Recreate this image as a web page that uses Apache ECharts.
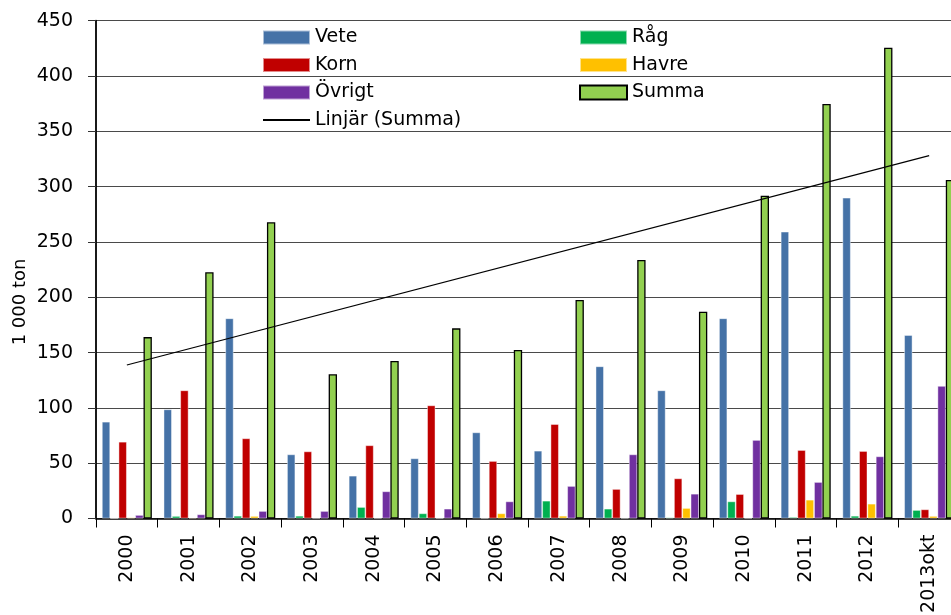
<!DOCTYPE html>
<html>
<head>
    <meta charset="utf-8">
    <title>Spannmål</title>
    <script src="https://cdn.jsdelivr.net/npm/echarts@6/dist/echarts.min.js"></script>
    <style>
        html, body { margin: 0; padding: 0; background: #fff; }
    </style>
</head>
<body>
<div id="main" style="width: 951px;height:615px"></div>
<script type="text/javascript">
    // kategorier och värden (1 000 ton)
    var years = ['2000', '2001', '2002', '2003', '2004', '2005', '2006', '2007', '2008', '2009', '2010', '2011', '2012', '2013okt'];
    var vete = [87.5, 98.7, 181, 58, 38.7, 54.4, 77.9, 61.3, 137.6, 115.9, 181, 259.3, 290, 165.9];
    var rag = [0, 2.3, 2.5, 2.5, 10.4, 4.7, 0.3, 16.1, 8.9, 1, 15.5, 1.4, 2.5, 7.7];
    var korn = [69.4, 115.9, 72.5, 60.7, 66.2, 102.3, 52, 85.4, 26.7, 36.3, 22.1, 61.9, 61, 8.3];
    var havre = [1, 0.8, 2.3, 0.5, 0.5, 0.3, 4.7, 2.5, 0.4, 9.5, 0.5, 17, 13.4, 2.3];
    var ovrigt = [3.2, 3.8, 6.8, 6.8, 24.6, 8.9, 15.5, 29.4, 58, 22.4, 71, 33, 56.2, 119.8];
    var summa = [164, 222.6, 267.8, 130.4, 142.4, 171.9, 152.3, 197.5, 233.7, 187, 291.8, 374.7, 425.6, 306];
    // trendlinjens ändpunkter (första och sista kategorin)
    var trend = [138.8, null, null, null, null, null, null, null, null, null, null, null, null, 328.1];

    var myChart = echarts.init(document.getElementById('main'));

    var font = 'DejaVu Sans';
    var thinEdge = { borderColor: 'rgba(255,255,255,0.55)', borderWidth: 0.8 };

    function bar(name, data, color) {
        return {
            name: name,
            type: 'bar',
            data: data,
            barGap: '0%',
            barCategoryGap: '19%',
            itemStyle: Object.assign({ color: color }, thinEdge),
            emphasis: { disabled: true }
        };
    }

    var legendCommon = {
        orient: 'vertical',
        top: 28,
        itemWidth: 47,
        itemHeight: 14,
        itemGap: 8.5,
        padding: 0,
        selectedMode: false,
        textStyle: { fontFamily: font, fontSize: 19, lineHeight: 19, color: '#000' }
    };

    var option = {
        animation: false,
        textStyle: { fontFamily: font },
        legend: [
            Object.assign({
                left: 262,
                data: [
                    { name: 'Vete', icon: 'rect' },
                    { name: 'Korn', icon: 'rect' },
                    { name: 'Övrigt', icon: 'rect' },
                    { name: 'Linjär (Summa)', itemStyle: { opacity: 0 } }
                ]
            }, legendCommon),
            Object.assign({
                left: 579,
                data: [
                    { name: 'Råg', icon: 'rect' },
                    { name: 'Havre', icon: 'rect' },
                    { name: 'Summa', icon: 'rect' }
                ]
            }, legendCommon)
        ],
        grid: { left: 96, right: -9, top: 20.7, bottom: 96.5, outerBoundsMode: 'none' },
        xAxis: {
            type: 'category',
            data: years,
            axisLine: { lineStyle: { color: '#000', width: 1.5 } },
            axisTick: { show: true, length: 9, lineStyle: { color: '#000', width: 1 } },
            axisLabel: { rotate: 90, margin: 16, fontSize: 19, color: '#000', fontFamily: font }
        },
        yAxis: {
            type: 'value',
            min: 0,
            max: 450,
            interval: 50,
            axisLine: { show: true, lineStyle: { color: '#000', width: 1.8 } },
            axisTick: { show: true, length: 8, lineStyle: { color: '#333', width: 1 } },
            axisLabel: { margin: 23, fontSize: 19, color: '#000', fontFamily: font },
            splitLine: { lineStyle: { color: '#4a4a4a', width: 1 } }
        },
        graphic: [{
            type: 'text',
            x: 20.5,
            y: 302,
            rotation: Math.PI / 2,
            style: {
                text: '1 000 ton',
                fontFamily: font,
                fontSize: 18,
                fill: '#000',
                align: 'center',
                verticalAlign: 'middle'
            }
        }],
        series: [
            bar('Vete', vete, '#4572A7'),
            bar('Råg', rag, '#00B050'),
            bar('Korn', korn, '#C00000'),
            bar('Havre', havre, '#FFC000'),
            bar('Övrigt', ovrigt, '#7030A0'),
            {
                name: 'Summa',
                type: 'bar',
                data: summa,
                barGap: '0%',
                barCategoryGap: '19%',
                itemStyle: { color: '#92D050', borderColor: '#000', borderWidth: 1.3 },
                emphasis: { disabled: true }
            },
            {
                name: 'Linjär (Summa)',
                type: 'line',
                data: trend,
                connectNulls: true,
                symbol: 'none',
                lineStyle: { color: '#000', width: 1.2 },
                itemStyle: { color: '#000' },
                z: 5,
                emphasis: { disabled: true }
            }
        ]
    };

    myChart.setOption(option);
</script>
</body>
</html>
